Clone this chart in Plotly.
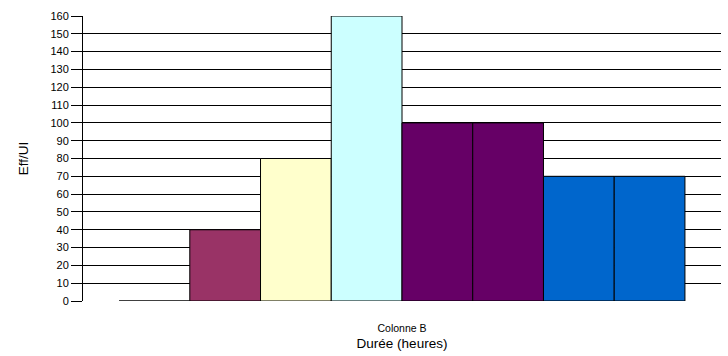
import plotly.graph_objects as go

# Series values (one bar per series, all in the single category "Colonne B")
category = ["Colonne B"]
values = [0, 40, 80, 160, 100, 100, 70, 70]
colors = ["#9999FF", "#993366", "#FFFFCC", "#CCFFFF", "#660066", "#660066", "#0066CC", "#0066CC"]
y_ticks = list(range(0, 161, 10))

fig = go.Figure()
for i, (v, c) in enumerate(zip(values, colors)):
    fig.add_trace(go.Bar(
        x=category,
        y=[v],
        name=f"Série {i + 1}",
        marker=dict(color=c, line=dict(color="#000000", width=1)),
        showlegend=False,
    ))

# small tick below the axis origin, as drawn by the category axis
fig.add_shape(
    type="line", xref="paper", yref="y",
    x0=0, x1=0, y0=0, y1=-11, ysizemode="pixel", yanchor=0,
    line=dict(color="#000000", width=1),
)

fig.update_layout(
    width=728, height=356,
    margin=dict(l=83, r=7, t=16, b=55),
    paper_bgcolor="#FFFFFF",
    plot_bgcolor="#FFFFFF",
    barmode="group",
    bargap=0.113,
    bargroupgap=0,
    font=dict(family="Liberation Sans, Arial, sans-serif", color="#000000"),
    xaxis=dict(
        showgrid=False,
        showline=False,
        ticks="",
        ticklabelstandoff=19,
        tickfont=dict(size=10.5),
        title=dict(text="Durée (heures)", font=dict(size=13.5), standoff=6),
    ),
    yaxis=dict(
        range=[0, 160],
        tickvals=y_ticks,
        showgrid=True,
        gridcolor="#000000",
        gridwidth=1,
        zeroline=False,
        showline=True,
        linecolor="#000000",
        linewidth=1,
        ticks="outside",
        ticklen=11,
        tickcolor="#000000",
        tickfont=dict(size=11),
        title=dict(text="Eff/UI", font=dict(size=13.5), standoff=18),
    ),
)

fig.write_html("out.html")
